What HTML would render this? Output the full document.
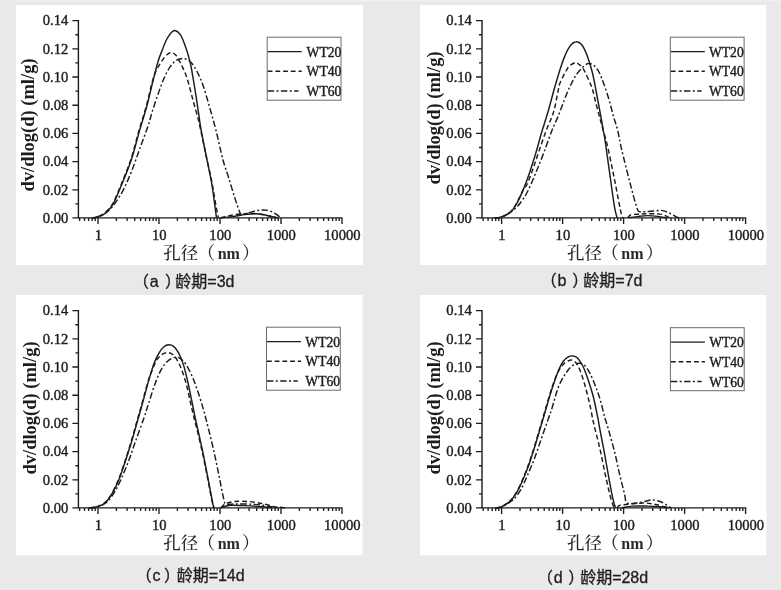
<!DOCTYPE html>
<html lang="zh-CN">
<head>
<meta charset="utf-8">
<title>孔径分布曲线</title>
<style>
html,body{margin:0;padding:0;background:#e9e9e9;}
body{width:781px;height:590px;overflow:hidden;}
svg{display:block;filter:grayscale(1);}
text{fill:#1c1c1c;}
.tk{font-family:"Liberation Serif","Noto Serif CJK SC",serif;font-size:14.6px;stroke:#1c1c1c;stroke-width:.4px;}
.lg{font-family:"Liberation Serif","Noto Serif CJK SC",serif;font-size:13.6px;stroke:#1c1c1c;stroke-width:.4px;}
.yl{font-family:"Liberation Serif","Noto Serif CJK SC",serif;font-size:18.5px;font-weight:bold;}
.xl{font-family:"Liberation Serif","Noto Serif CJK SC",serif;font-size:17.5px;font-weight:500;fill:#2a2a2a;}
.nm{font-weight:bold;font-size:16px;}
.cp{font-family:"Liberation Sans","Noto Sans CJK SC",sans-serif;font-size:16px;fill:#1e1e1e;stroke:#1e1e1e;stroke-width:.3px;}
.s1,.s2,.s3{fill:none;stroke:#1c1c1c;stroke-width:1.45;stroke-linejoin:round;}
.s2{stroke-dasharray:4.8 2.9;}
.s3{stroke-dasharray:6.4 2.4 2 2.4;}
</style>
</head>
<body>
<svg width="781" height="590" viewBox="0 0 781 590">
<rect width="781" height="590" fill="#e9e9e9"/>
<rect x="16" width="765" height="1.4" fill="#f0f0f0"/>
<rect x="16" y="5" width="347" height="260" fill="#fff"/>
<rect x="420" y="5" width="346.4" height="260" fill="#fff"/>
<rect x="16" y="295" width="346.5" height="260.3" fill="#fff"/>
<rect x="420" y="295" width="346.4" height="260.3" fill="#fff"/>
<g transform="translate(0 0)">
<path d="M78.4 20 V217.9 H342.6" fill="none" stroke="#1c1c1c" stroke-width="1.4"/>
<path d="M78.4 217.9h-6M78.4 203.9h-3M78.4 189.8h-6M78.4 175.7h-3M78.4 161.6h-6M78.4 147.5h-3M78.4 133.4h-6M78.4 119.3h-3M78.4 105.2h-6M78.4 91.1h-3M78.4 77h-6M78.4 62.9h-3M78.4 48.8h-6M78.4 34.7h-3M78.4 20.6h-6M79.6 217.9v3M84.5 217.9v3M88.6 217.9v3M92.1 217.9v3M95.2 217.9v3M98 217.9v6M116.4 217.9v3M127.1 217.9v3M134.7 217.9v3M140.6 217.9v3M145.5 217.9v3M149.6 217.9v3M153.1 217.9v3M156.2 217.9v3M159 217.9v6M177.4 217.9v3M188.1 217.9v3M195.7 217.9v3M201.6 217.9v3M206.5 217.9v3M210.6 217.9v3M214.1 217.9v3M217.2 217.9v3M220 217.9v6M238.4 217.9v3M249.1 217.9v3M256.7 217.9v3M262.6 217.9v3M267.5 217.9v3M271.6 217.9v3M275.1 217.9v3M278.2 217.9v3M281 217.9v6M299.4 217.9v3M310.1 217.9v3M317.7 217.9v3M323.6 217.9v3M328.5 217.9v3M332.6 217.9v3M336.1 217.9v3M339.2 217.9v3M342 217.9v6" fill="none" stroke="#1c1c1c" stroke-width="1.35"/>
<g class="tk" text-anchor="end">
<text x="68.3" y="222.6">0.00</text>
<text x="68.3" y="194.5">0.02</text>
<text x="68.3" y="166.3">0.04</text>
<text x="68.3" y="138.1">0.06</text>
<text x="68.3" y="109.9">0.08</text>
<text x="68.3" y="81.7">0.10</text>
<text x="68.3" y="53.5">0.12</text>
<text x="68.3" y="25.3">0.14</text>
</g>
<g class="tk" text-anchor="middle">
<text x="98.3" y="240">1</text>
<text x="159.3" y="240">10</text>
<text x="220.3" y="240">100</text>
<text x="281.3" y="240">1000</text>
<text x="342.3" y="240">10000</text>
</g>
<path class="s3" d="M92 217.8C92.8 217.7 95.2 217.7 97 217.2C98.8 216.7 100.8 215.8 102.8 214.7C104.8 213.6 106.9 212.3 108.9 210.4C111 208.5 112.7 206.6 115.1 203.2C117.5 199.8 120.6 195.2 123.3 189.9C126 184.6 128.8 178.3 131.5 171.5C134.2 164.7 137 156.4 139.7 148.9C142.4 141.4 145.8 132.5 147.9 126.4C150 120.3 150.3 117.9 152 112.5C153.7 107.1 156 99.8 158.1 94C160.2 88.2 162.2 82.2 164.3 77.6C166.4 73 168.4 69.3 170.4 66.4C172.4 63.5 174.4 61.5 176.6 60.2C178.8 58.9 181.3 58.2 183.7 58.6C186.1 59 188.7 60.1 190.9 62.3C193.1 64.5 194.9 67.6 197 71.5C199.1 75.4 201.1 80 203.2 85.8C205.2 91.6 207.2 98.9 209.3 106.3C211.4 113.7 213.6 121 215.9 130C218.2 138.9 220.9 152.2 223 160C225.1 167.8 226.5 170.8 228.4 176.9C230.3 183.1 232.7 191.3 234.5 196.9C236.3 202.5 238 207.8 239.2 210.7C240.4 213.6 240 214.2 241.5 214.6C243 215 245.6 213.6 248 213C250.4 212.4 253.4 211.3 256 210.8C258.6 210.3 261.4 209.9 263.7 209.9C266 209.9 267.9 210.3 270 211C272.1 211.7 274.2 213.1 276 214.2C277.8 215.3 279.8 217.2 280.6 217.8"/>
<path class="s2" d="M92 217.8C92.7 217.7 94.6 217.8 96 217.4C97.4 217 99.2 216.2 100.6 215.5C102 214.8 102.4 215.2 104.4 213.3C106.4 211.4 109.8 208.7 112.5 204.1C115.2 199.5 117.6 193.1 120.7 185.6C123.8 178.1 127.9 168.3 131 159C134.1 149.7 136.6 138.6 139.2 129.8C141.8 121 144.1 114.3 146.3 106.1C148.5 97.9 150.9 86.7 152.6 80.7C154.3 74.7 155.1 73.1 156.4 70.2C157.7 67.3 159 65.4 160.2 63.5C161.4 61.6 162.4 60.1 163.6 58.6C164.8 57.1 166.2 55.3 167.5 54.3C168.8 53.3 170.1 52.5 171.5 52.7C172.9 52.9 174.6 53.9 175.9 55.3C177.2 56.7 178.4 59.2 179.4 61C180.4 62.8 180.7 63.2 182 66.1C183.3 69 185.3 72.7 187.1 78.4C188.9 84.1 191.2 93.5 193 100.2C194.8 106.9 196.8 113.6 198.1 118.6C199.4 123.6 199.4 123.9 200.7 130C202 136.1 204.2 146.4 206 155C207.8 163.6 210.1 173.2 211.8 181.7C213.5 190.2 214.9 200 216 206C217.1 212 218 215.8 218.4 217.8"/>
<path class="s2" d="M220.7 217.8C221.9 217.5 225.4 216.5 228 216C230.6 215.5 233.2 214.9 236 214.5C238.8 214.1 241.9 213.9 245 213.7C248.1 213.5 251.3 213.3 254.5 213.5C257.7 213.7 261.2 214.3 264 214.8C266.8 215.3 269 216 271 216.5C273 217 275.2 217.5 276 217.8"/>
<path class="s1" d="M92 217.8C92.7 217.7 94.5 217.8 96 217.4C97.5 217 99.3 216.2 100.8 215.6C102.3 214.9 102.8 215.4 104.8 213.5C106.8 211.6 110.3 208.9 113 204.3C115.7 199.7 118.1 193.3 121.2 185.8C124.3 178.3 128.4 168.5 131.5 159.2C134.6 149.9 137.1 138.8 139.7 130C142.2 121.2 144.6 114.5 146.8 106.3C149 98.1 151.1 88.2 153 80.7C154.9 73.2 156.6 66.2 158.1 61.2C159.6 56.2 160.7 54.2 162 50.7C163.3 47.2 164.9 43 166.1 40.5C167.3 38 168.3 36.8 169.2 35.4C170.1 34 170.6 33.1 171.6 32.3C172.6 31.5 173.5 30.2 174.9 30.5C176.3 30.8 178.3 31.8 180 34.2C181.7 36.6 183.2 40.3 184.8 44.8C186.5 49.3 188.5 55.7 189.9 61.2C191.3 66.7 192 71.8 193 77.6C194 83.4 195 89.5 196 96C197 102.5 198.2 110.9 199.1 116.6C199.9 122.3 199.9 123.6 201.1 130C202.2 136.4 204.3 146.4 206 155C207.7 163.6 210 173.7 211.4 181.7C212.8 189.7 213.7 197 214.5 203C215.3 209 216.2 215.3 216.5 217.8"/>
<path class="s1" d="M220.7 217.8C222.6 217.6 227.9 217.1 232 216.6C236.1 216.1 241.2 215.1 245 214.6C248.8 214.1 251.3 213.8 254.5 213.8C257.7 213.8 261.1 214.3 264 214.8C266.9 215.3 269.7 216.1 272 216.6C274.3 217.1 276.7 217.6 277.6 217.8"/>
<rect x="267.2" y="37.2" width="73.8" height="63" fill="#fff" stroke="#6c6c6c" stroke-width="1"/>
<path class="s1" d="M267.7 51.6H301.7"/>
<text class="lg" x="306.6" y="56.7">WT20</text>
<path class="s2" d="M267.7 71.3H301.7"/>
<text class="lg" x="306.6" y="76.4">WT40</text>
<path class="s3" d="M267.7 91H298.5"/>
<text class="lg" x="306.6" y="96.1">WT60</text>
<text class="yl" transform="translate(33.9 125) rotate(-90)" text-anchor="middle">dv/dlog(d) (ml/g)</text>
<text class="xl" x="163.3" y="259.2">孔径<tspan x="197.6">（</tspan><tspan class="nm" x="217.7">nm</tspan><tspan x="242.1">）</tspan></text>
<text class="cp" x="133.1" y="286.6">（<tspan dx="0.7">a</tspan><tspan dx="6.3">）</tspan><tspan dx="-5.7">龄期=3d</tspan></text>
</g>
<g transform="translate(403.6 0)">
<path d="M78.4 20 V217.9 H342.6" fill="none" stroke="#1c1c1c" stroke-width="1.4"/>
<path d="M78.4 217.9h-6M78.4 203.9h-3M78.4 189.8h-6M78.4 175.7h-3M78.4 161.6h-6M78.4 147.5h-3M78.4 133.4h-6M78.4 119.3h-3M78.4 105.2h-6M78.4 91.1h-3M78.4 77h-6M78.4 62.9h-3M78.4 48.8h-6M78.4 34.7h-3M78.4 20.6h-6M79.6 217.9v3M84.5 217.9v3M88.6 217.9v3M92.1 217.9v3M95.2 217.9v3M98 217.9v6M116.4 217.9v3M127.1 217.9v3M134.7 217.9v3M140.6 217.9v3M145.5 217.9v3M149.6 217.9v3M153.1 217.9v3M156.2 217.9v3M159 217.9v6M177.4 217.9v3M188.1 217.9v3M195.7 217.9v3M201.6 217.9v3M206.5 217.9v3M210.6 217.9v3M214.1 217.9v3M217.2 217.9v3M220 217.9v6M238.4 217.9v3M249.1 217.9v3M256.7 217.9v3M262.6 217.9v3M267.5 217.9v3M271.6 217.9v3M275.1 217.9v3M278.2 217.9v3M281 217.9v6M299.4 217.9v3M310.1 217.9v3M317.7 217.9v3M323.6 217.9v3M328.5 217.9v3M332.6 217.9v3M336.1 217.9v3M339.2 217.9v3M342 217.9v6" fill="none" stroke="#1c1c1c" stroke-width="1.35"/>
<g class="tk" text-anchor="end">
<text x="68.3" y="222.6">0.00</text>
<text x="68.3" y="194.5">0.02</text>
<text x="68.3" y="166.3">0.04</text>
<text x="68.3" y="138.1">0.06</text>
<text x="68.3" y="109.9">0.08</text>
<text x="68.3" y="81.7">0.10</text>
<text x="68.3" y="53.5">0.12</text>
<text x="68.3" y="25.3">0.14</text>
</g>
<g class="tk" text-anchor="middle">
<text x="98.3" y="240">1</text>
<text x="159.3" y="240">10</text>
<text x="220.3" y="240">100</text>
<text x="281.3" y="240">1000</text>
<text x="342.3" y="240">10000</text>
</g>
<path class="s3" d="M91 217.8C91.9 217.7 94.8 217.7 96.5 217.4C98.2 217.1 100.1 216.3 101.4 215.7C102.8 215.1 103.4 214.8 104.6 214C105.8 213.2 107.4 211.9 108.6 211C109.8 210.1 110.3 209.7 111.6 208.4C112.9 207.1 114.5 205.9 116.5 203.2C118.5 200.5 121.1 196.9 123.7 192C126.3 187.1 129.2 180 131.9 173.5C134.6 167 137.4 160.2 140.1 153C142.8 145.8 145.9 136.6 148.3 130.5C150.7 124.4 152.4 121.6 154.4 116.6C156.4 111.5 158.6 105.3 160.6 100.2C162.6 95.1 164.6 90.1 166.7 85.8C168.8 81.5 170.8 77.6 172.9 74.5C175 71.4 177.1 69.2 179 67.4C180.9 65.6 182.8 63.9 184.6 63.5C186.4 63.1 188.2 64 190 65.3C191.8 66.6 193.4 68.4 195.1 71.5C196.8 74.6 198.4 79 200.2 83.8C201.9 88.6 204 94.7 205.6 100.2C207.2 105.7 208.5 111.6 209.9 116.6C211.3 121.6 212.7 124.6 214 130C215.3 135.4 215.9 140.3 217.9 148.9C219.9 157.5 224 173.5 226.1 181.7C228.2 189.9 229.2 193.6 230.4 198.1C231.7 202.6 232.8 206.3 233.6 208.6C234.4 210.8 234.1 211.1 235.5 211.6C236.9 212.1 239.6 211.7 242 211.6C244.4 211.5 247.3 211.2 250 211C252.7 210.8 255.7 210.2 258 210.4C260.3 210.6 262.2 211.5 264 212.2C265.8 212.9 267.4 214 269 214.8C270.6 215.6 272.1 216.6 273.3 217.1C274.5 217.6 275.9 217.6 276.4 217.8"/>
<path class="s2" d="M91 217.8C91.9 217.7 94.8 217.8 96.5 217.4C98.2 217 99.8 216.1 101 215.5C102.2 214.9 102.8 214.6 104 213.8C105.2 213 106.6 212.3 108.1 210.5C109.6 208.7 111.1 206.6 113.1 203.1C115 199.6 118.1 192.3 119.8 189.3C121.5 186.3 121.5 188.4 123.1 185C124.7 181.6 127.3 174.7 129.3 169C131.4 163.3 133.2 157.4 135.4 151C137.6 144.6 140.2 136.9 142.6 130.5C145 124.1 147.9 118.9 149.8 112.5C151.8 106.1 153.2 96.9 154.3 92C155.4 87.1 155 86.8 156.3 83.3C157.7 79.8 160.8 73.9 162.4 71C164 68.1 164.6 67.2 166 65.9C167.4 64.6 169.5 63.5 170.6 63C171.7 62.5 171.9 62.6 172.7 62.8C173.5 63 174.3 63.6 175.2 64.3C176.1 65 177.3 65.6 178.3 66.9C179.3 68.2 180 69.3 181.4 72C182.8 74.7 185.2 80.3 186.5 83.3C187.8 86.3 188.1 86.5 189.1 90C190.1 93.5 191.4 99.5 192.6 104.3C193.8 109.1 195.2 114.3 196.4 118.6C197.6 122.9 198.3 125.6 199.5 130C200.7 134.4 201.9 137.6 203.6 144.8C205.3 152.1 207.8 164.3 209.7 173.5C211.6 182.7 213.5 193 214.9 200.2C216.3 207.3 217.5 213.5 218.3 216.4C219.2 217.8 219.7 217.5 220 217.8"/>
<path class="s2" d="M224 217.8C224.6 217.3 225.3 215.4 227.3 214.8C229.3 214.2 233.2 214.4 236 214.2C238.8 214 240.8 213.8 244.2 213.8C247.6 213.8 253.7 213.8 256.5 214.1C259.3 214.3 259.7 214.9 261 215.3C262.3 215.8 263.3 216.4 264.1 216.8C264.9 217.2 265.7 217.6 266 217.8"/>
<path class="s1" d="M91 217.8C91.9 217.7 94.8 217.8 96.5 217.4C98.2 217 99.9 216.2 101.2 215.6C102.5 215 103.1 214.7 104.3 213.9C105.5 213.1 106.9 212.4 108.4 210.6C109.9 208.8 111.5 206.6 113.4 203.2C115.3 199.8 117.5 194.8 119.6 189.9C121.6 185 123.7 179.5 125.7 173.5C127.8 167.5 129.8 160.9 131.9 154.1C134 147.3 135.9 139.4 138 132.5C140.1 125.6 142.2 119.2 144.2 112.5C146.2 105.8 147.9 98.8 149.8 92C151.7 85.2 154 77.3 155.8 71.5C157.6 65.7 159.1 61.2 160.8 57.1C162.5 53 164 49.5 165.9 46.9C167.8 44.3 170.1 42.1 172.2 41.8C174.2 41.4 176.3 42.6 178.2 44.8C180 47 181.6 50.6 183.3 55.1C185 59.6 186.9 65.3 188.5 71.5C190.1 77.7 191.4 85.2 192.7 92C194 98.8 195.3 106.2 196.5 112.5C197.7 118.8 198.8 125.3 199.6 130C200.4 134.7 200.3 132.8 201.5 140.7C202.7 148.6 205.1 166.7 206.7 177.6C208.2 188.5 209.7 199.6 210.8 206.3C211.9 213 213 215.8 213.4 217.8"/>
<path class="s1" d="M225.7 217.8C227.2 217.5 231.9 216.8 235 216.4C238.1 216 241 215.6 244.2 215.6C247.4 215.6 250.9 216 254 216.4C257.1 216.8 261.2 217.5 262.6 217.8"/>
<rect x="266.7" y="37.2" width="73.8" height="63" fill="#fff" stroke="#6c6c6c" stroke-width="1"/>
<path class="s1" d="M267.2 51.6H301.2"/>
<text class="lg" x="305.4" y="56.7">WT20</text>
<path class="s2" d="M267.2 71.3H301.2"/>
<text class="lg" x="305.4" y="76.4">WT40</text>
<path class="s3" d="M267.2 91H298"/>
<text class="lg" x="305.4" y="96.1">WT60</text>
<text class="yl" transform="translate(36.4 118) rotate(-90)" text-anchor="middle">dv/dlog(d) (ml/g)</text>
<text class="xl" x="163.3" y="259.2">孔径<tspan x="197.6">（</tspan><tspan class="nm" x="217.7">nm</tspan><tspan x="242.1">）</tspan></text>
<text class="cp" x="137.1" y="286.2">（<tspan dx="0.7">b</tspan><tspan dx="6">）</tspan><tspan dx="-5">龄期=7d</tspan></text>
</g>
<g transform="translate(0 290)">
<path d="M78.4 20 V217.9 H342.6" fill="none" stroke="#1c1c1c" stroke-width="1.4"/>
<path d="M78.4 217.9h-6M78.4 203.9h-3M78.4 189.8h-6M78.4 175.7h-3M78.4 161.6h-6M78.4 147.5h-3M78.4 133.4h-6M78.4 119.3h-3M78.4 105.2h-6M78.4 91.1h-3M78.4 77h-6M78.4 62.9h-3M78.4 48.8h-6M78.4 34.7h-3M78.4 20.6h-6M79.6 217.9v3M84.5 217.9v3M88.6 217.9v3M92.1 217.9v3M95.2 217.9v3M98 217.9v6M116.4 217.9v3M127.1 217.9v3M134.7 217.9v3M140.6 217.9v3M145.5 217.9v3M149.6 217.9v3M153.1 217.9v3M156.2 217.9v3M159 217.9v6M177.4 217.9v3M188.1 217.9v3M195.7 217.9v3M201.6 217.9v3M206.5 217.9v3M210.6 217.9v3M214.1 217.9v3M217.2 217.9v3M220 217.9v6M238.4 217.9v3M249.1 217.9v3M256.7 217.9v3M262.6 217.9v3M267.5 217.9v3M271.6 217.9v3M275.1 217.9v3M278.2 217.9v3M281 217.9v6M299.4 217.9v3M310.1 217.9v3M317.7 217.9v3M323.6 217.9v3M328.5 217.9v3M332.6 217.9v3M336.1 217.9v3M339.2 217.9v3M342 217.9v6" fill="none" stroke="#1c1c1c" stroke-width="1.35"/>
<g class="tk" text-anchor="end">
<text x="68.3" y="222.6">0.00</text>
<text x="68.3" y="194.5">0.02</text>
<text x="68.3" y="166.3">0.04</text>
<text x="68.3" y="138.1">0.06</text>
<text x="68.3" y="109.9">0.08</text>
<text x="68.3" y="81.7">0.10</text>
<text x="68.3" y="53.5">0.12</text>
<text x="68.3" y="25.3">0.14</text>
</g>
<g class="tk" text-anchor="middle">
<text x="98.3" y="240">1</text>
<text x="159.3" y="240">10</text>
<text x="220.3" y="240">100</text>
<text x="281.3" y="240">1000</text>
<text x="342.3" y="240">10000</text>
</g>
<path class="s3" d="M89 217.8C90 217.7 93 217.7 95 217.3C97 216.9 99.5 216.1 101 215.5C102.5 214.9 102.8 214.8 104.1 213.9C105.4 213 107.1 212.3 108.9 210.2C110.7 208.1 113 204.8 115.1 201.2C117.1 197.6 119 193.8 121.2 188.9C123.4 184 126 177.8 128.4 171.5C130.8 165.2 133 158.2 135.6 151C138.2 143.8 141.6 134.8 143.8 128.4C146 122 147 118.2 148.9 112.5C150.8 106.8 152.9 99.5 155 94C157.1 88.5 159.1 83.5 161.2 79.7C163.2 76 165.1 73.5 167.3 71.5C169.5 69.5 172.4 67.9 174.5 67.4C176.6 66.9 178.2 67.3 180 68.4C181.8 69.5 183.5 70.9 185.5 73.8C187.5 76.7 190 81.6 192 86C194 90.4 195.5 94.8 197.4 100.2C199.3 105.6 201.7 113.5 203.2 118.6C204.7 123.7 204.8 124.2 206.5 131C208.2 137.8 211.4 150.4 213.4 159.2C215.4 168 217.1 176.3 218.6 183.8C220.1 191.3 221.7 199.7 222.7 204.3C223.7 208.9 224 210 224.4 211.6C224.8 213.2 224.6 213.4 225.3 213.9C226 214.4 226.7 214.3 228.5 214.3C230.3 214.3 232.2 213.9 236 213.9C239.8 213.9 246.4 214 251 214.2C255.6 214.4 260 214.8 263.7 215.3C267.4 215.8 270.3 216.8 273 217.1C275.7 217.4 278 217.2 280 217.3C282 217.4 284.2 217.7 285 217.8"/>
<path class="s2" d="M89 217.8C90 217.7 93.1 217.7 95 217.3C96.9 216.9 99.2 215.9 100.6 215.3C102 214.7 102.4 214.6 103.6 213.7C104.8 212.8 106.2 211.5 107.7 209.6C109.2 207.7 110.8 205.6 112.6 202.1C114.4 198.6 116.8 193.9 118.8 188.8C120.8 183.7 122.9 177.6 124.9 171.4C127 165.2 129.1 158.7 131.1 151.9C133.1 145.1 135.3 137 137.2 130.4C139.1 123.8 140.4 119.2 142.3 112.4C144.2 105.7 146.9 95.2 148.5 89.9C150.1 84.6 150.7 83.9 152 80.7C153.3 77.5 154.8 73.2 156.4 70.5C158 67.8 160 65.9 161.8 64.6C163.6 63.3 165.3 62.7 167 62.6C168.7 62.5 170.4 62.9 172 64C173.6 65.1 175 66.6 176.6 69.2C178.2 71.8 180 75.2 181.7 79.7C183.4 84.2 185.3 90.3 186.8 96.1C188.3 101.9 189.6 108.8 190.9 114.5C192.2 120.2 192.7 122.2 194.6 130C196.5 137.8 199.9 151.1 202.1 161C204.3 170.9 206.2 181.1 207.9 189.7C209.6 198.2 211.2 207.6 212.3 212.3C213.4 217 213.9 216.8 214.2 217.8"/>
<path class="s2" d="M221 217.8C221.7 217.1 223.1 214.8 225.3 213.8C227.6 212.8 230.7 211.9 234.5 211.5C238.3 211.1 243.8 211.2 248.4 211.5C253 211.8 258.1 212.7 262.2 213.5C266.3 214.3 270.4 215.8 273 216.5C275.6 217.2 276.8 217.5 277.5 217.8"/>
<path class="s1" d="M89 217.8C90 217.7 93 217.7 95 217.3C97 216.9 99.3 216 100.8 215.4C102.3 214.8 102.7 214.8 103.9 213.8C105.1 212.9 106.5 211.6 108 209.7C109.5 207.8 111.1 205.7 113 202.2C114.9 198.7 117.2 194 119.2 188.9C121.2 183.8 123.2 177.7 125.3 171.5C127.3 165.3 129.4 158.8 131.5 152C133.6 145.2 135.7 137.1 137.6 130.5C139.5 123.9 140.8 119.3 142.7 112.5C144.6 105.7 147 96.4 148.9 89.9C150.8 83.4 152.3 78 154 73.5C155.7 69 157.4 65.6 159.1 62.8C160.8 60 162.4 58.1 164 56.8C165.6 55.5 167 54.9 168.6 54.8C170.2 54.7 171.6 54.9 173.3 56.2C175 57.5 176.9 59.6 178.6 62.8C180.3 66 182.2 70.7 183.7 75.6C185.2 80.5 186.4 86 187.8 92C189.2 98 190.6 105.2 191.9 111.5C193.2 117.8 193.9 121.7 195.7 130C197.5 138.3 200.5 151.2 202.6 161.2C204.7 171.2 206.6 181.3 208.3 189.9C210 198.5 211.7 207.9 212.6 212.5C213.5 217.1 213.6 216.9 213.8 217.8"/>
<path class="s1" d="M220.7 217.8C222.2 217.3 226.2 215.7 230 215.3C233.8 214.9 239 215.4 243.8 215.6C248.6 215.8 254.4 216.1 259 216.5C263.6 216.9 269.3 217.5 271.4 217.8"/>
<rect x="266.5" y="37.2" width="73.8" height="63" fill="#fff" stroke="#6c6c6c" stroke-width="1"/>
<path class="s1" d="M267 51.6H301"/>
<text class="lg" x="305.3" y="56.7">WT20</text>
<path class="s2" d="M267 71.3H301"/>
<text class="lg" x="305.3" y="76.4">WT40</text>
<path class="s3" d="M267 91H297.8"/>
<text class="lg" x="305.3" y="96.1">WT60</text>
<text class="yl" transform="translate(36.4 118) rotate(-90)" text-anchor="middle">dv/dlog(d) (ml/g)</text>
<text class="xl" x="163.3" y="259.2">孔径<tspan x="197.6">（</tspan><tspan class="nm" x="217.7">nm</tspan><tspan x="242.1">）</tspan></text>
<text class="cp" x="135.8" y="291">（<tspan dx="0.7">c</tspan><tspan dx="3.4">）</tspan><tspan dx="-3.3">龄期=14d</tspan></text>
</g>
<g transform="translate(403.6 290)">
<path d="M78.4 20 V217.9 H342.6" fill="none" stroke="#1c1c1c" stroke-width="1.4"/>
<path d="M78.4 217.9h-6M78.4 203.9h-3M78.4 189.8h-6M78.4 175.7h-3M78.4 161.6h-6M78.4 147.5h-3M78.4 133.4h-6M78.4 119.3h-3M78.4 105.2h-6M78.4 91.1h-3M78.4 77h-6M78.4 62.9h-3M78.4 48.8h-6M78.4 34.7h-3M78.4 20.6h-6M79.6 217.9v3M84.5 217.9v3M88.6 217.9v3M92.1 217.9v3M95.2 217.9v3M98 217.9v6M116.4 217.9v3M127.1 217.9v3M134.7 217.9v3M140.6 217.9v3M145.5 217.9v3M149.6 217.9v3M153.1 217.9v3M156.2 217.9v3M159 217.9v6M177.4 217.9v3M188.1 217.9v3M195.7 217.9v3M201.6 217.9v3M206.5 217.9v3M210.6 217.9v3M214.1 217.9v3M217.2 217.9v3M220 217.9v6M238.4 217.9v3M249.1 217.9v3M256.7 217.9v3M262.6 217.9v3M267.5 217.9v3M271.6 217.9v3M275.1 217.9v3M278.2 217.9v3M281 217.9v6M299.4 217.9v3M310.1 217.9v3M317.7 217.9v3M323.6 217.9v3M328.5 217.9v3M332.6 217.9v3M336.1 217.9v3M339.2 217.9v3M342 217.9v6" fill="none" stroke="#1c1c1c" stroke-width="1.35"/>
<g class="tk" text-anchor="end">
<text x="68.3" y="222.6">0.00</text>
<text x="68.3" y="194.5">0.02</text>
<text x="68.3" y="166.3">0.04</text>
<text x="68.3" y="138.1">0.06</text>
<text x="68.3" y="109.9">0.08</text>
<text x="68.3" y="81.7">0.10</text>
<text x="68.3" y="53.5">0.12</text>
<text x="68.3" y="25.3">0.14</text>
</g>
<g class="tk" text-anchor="middle">
<text x="98.3" y="240">1</text>
<text x="159.3" y="240">10</text>
<text x="220.3" y="240">100</text>
<text x="281.3" y="240">1000</text>
<text x="342.3" y="240">10000</text>
</g>
<path class="s3" d="M92 217.8C92.8 217.7 95.4 217.7 97 217.3C98.6 216.9 100.2 215.8 101.5 215.1C102.8 214.4 103.6 213.9 104.8 213.1C106 212.3 107.6 211.2 108.8 210.3C110 209.4 110.3 209.5 111.8 207.6C113.2 205.7 115.5 202.7 117.5 199.1C119.5 195.5 121.5 190.9 123.7 185.8C125.9 180.7 128.5 174.7 130.9 168.4C133.3 162.1 135.6 154.7 138 147.9C140.4 141.1 143.5 132.3 145.2 127.4C146.9 122.5 146.8 123.4 148.3 118.5C149.8 113.6 152.4 103.5 154.4 98.1C156.4 92.6 158.6 89.2 160.6 85.8C162.6 82.4 164.8 79.6 166.7 77.6C168.6 75.6 170.7 74.6 172.3 73.9C173.9 73.2 174.8 73 176.3 73.3C177.9 73.6 179.8 74.1 181.6 75.9C183.3 77.7 185 80.7 186.8 84.2C188.6 87.7 190.5 92.6 192.2 97C193.9 101.4 195.3 105.4 196.8 110.4C198.3 115.4 199.7 122.1 201 126.8C202.3 131.5 203 132.9 204.6 138.6C206.2 144.3 208.9 153.7 210.8 161.2C212.7 168.7 214.2 176.6 215.9 183.8C217.6 191 219.8 199.4 221 204.3C222.2 209.2 221.3 211.6 223.4 213C225.5 214.4 230.5 213.2 233.4 213C236.3 212.8 238.7 212 241.1 211.5C243.5 211 245.7 210 248 209.9C250.3 209.8 252.7 210.3 254.9 211C257.1 211.7 259.1 212.7 261.1 213.8C263.2 214.9 266.2 217.1 267.2 217.8"/>
<path class="s2" d="M92 217.8C92.8 217.7 95.5 217.8 97 217.3C98.5 216.8 99.8 215.7 101 214.9C102.2 214.2 102.8 213.8 104 212.8C105.2 211.9 106.4 211.3 108.1 209.2C109.8 207.1 112.1 203.8 114.1 200.1C116.1 196.3 118.2 191.7 120.2 186.7C122.2 181.7 124.4 176.3 126.4 170.3C128.5 164.3 130.5 157.6 132.5 150.9C134.5 144.2 136.7 136.8 138.6 130.4C140.5 124 142.1 118.1 143.8 112.4C145.5 106.7 147.2 101.1 148.9 96.1C150.6 91.1 152.4 86.1 154.2 82.5C156 78.9 157.8 76.4 159.5 74.5C161.2 72.6 163 71.8 164.5 71C166 70.2 167 69.6 168.4 70C169.8 70.4 171.5 71.5 172.9 73.5C174.3 75.5 175.5 77.6 177 81.7C178.5 85.8 180.6 92.6 182.1 98.1C183.6 103.6 185 109.2 186.2 114.5C187.4 119.8 188.5 126 189.3 130C190.2 134 190.1 133.7 191.3 138.6C192.5 143.5 194.7 151.7 196.4 159.2C198.1 166.7 199.8 176 201.5 183.8C203.2 191.7 205.3 200.8 206.7 206.3C208.1 211.8 209.3 214.7 210 216.6C210.7 217.8 210.9 217.6 211.1 217.8"/>
<path class="s2" d="M213.5 217.8C214 217.3 213.9 216 216.5 215.3C219.1 214.6 224.7 214.2 228.8 213.8C232.9 213.4 237.3 212.9 241.1 213C244.9 213.1 248.5 213.9 251.8 214.5C255.1 215.1 258.9 216.3 261.1 216.8C263.3 217.3 264.4 217.6 265 217.8"/>
<path class="s1" d="M92 217.8C92.8 217.7 95.5 217.8 97 217.3C98.5 216.8 100 215.7 101.2 215C102.4 214.3 103.1 213.8 104.3 212.9C105.5 212 106.7 211.4 108.4 209.3C110.1 207.2 112.5 203.9 114.5 200.2C116.5 196.4 118.5 191.8 120.6 186.8C122.6 181.8 124.8 176.4 126.8 170.4C128.8 164.4 130.9 157.7 132.9 151C134.9 144.3 137.1 136.9 139 130.5C140.9 124.1 142.5 118.2 144.2 112.5C145.9 106.8 147.6 101.2 149.3 96.1C151 91 152.7 85.8 154.4 81.7C156.1 77.6 157.8 74 159.5 71.5C161.2 69 163.1 67.8 164.7 66.9C166.3 66 167.4 65.7 168.9 65.9C170.4 66.1 172.2 66.2 173.9 67.9C175.6 69.6 177.4 72.3 179.2 76C181 79.7 182.9 84.9 184.6 89.9C186.3 95 188.1 100.5 189.6 106.3C191.1 112.1 192.8 120.8 193.6 124.8C194.4 128.8 194.3 127.6 194.7 130C195.1 132.4 195.2 133.8 196.2 139C197.2 144.2 198.9 152.7 200.5 161.2C202.1 169.7 204.1 181.7 205.6 189.9C207.1 198.1 208.6 205.8 209.7 210.4C210.8 215 211.5 216.5 211.9 217.8"/>
<path class="s1" d="M218 217.8C219.8 217.5 224.4 216.4 228.8 216.1C233.2 215.8 239.6 216 244.2 216.1C248.8 216.2 252.9 216.5 256.5 216.8C260.1 217.1 264.2 217.6 265.7 217.8"/>
<rect x="266.8" y="37.7" width="73.8" height="63" fill="#fff" stroke="#6c6c6c" stroke-width="1"/>
<path class="s1" d="M267.3 52.1H301.3"/>
<text class="lg" x="305.6" y="57.2">WT20</text>
<path class="s2" d="M267.3 71.8H301.3"/>
<text class="lg" x="305.6" y="76.9">WT40</text>
<path class="s3" d="M267.3 91.5H298.1"/>
<text class="lg" x="305.6" y="96.6">WT60</text>
<text class="yl" transform="translate(36.4 118) rotate(-90)" text-anchor="middle">dv/dlog(d) (ml/g)</text>
<text class="xl" x="163.3" y="259.2">孔径<tspan x="197.6">（</tspan><tspan class="nm" x="217.7">nm</tspan><tspan x="242.1">）</tspan></text>
<text class="cp" x="133.5" y="292.8">（<tspan dx="0.7">d</tspan><tspan dx="5.6">）</tspan><tspan dx="-4.2">龄期=28d</tspan></text>
</g>
</svg>
</body>
</html>
